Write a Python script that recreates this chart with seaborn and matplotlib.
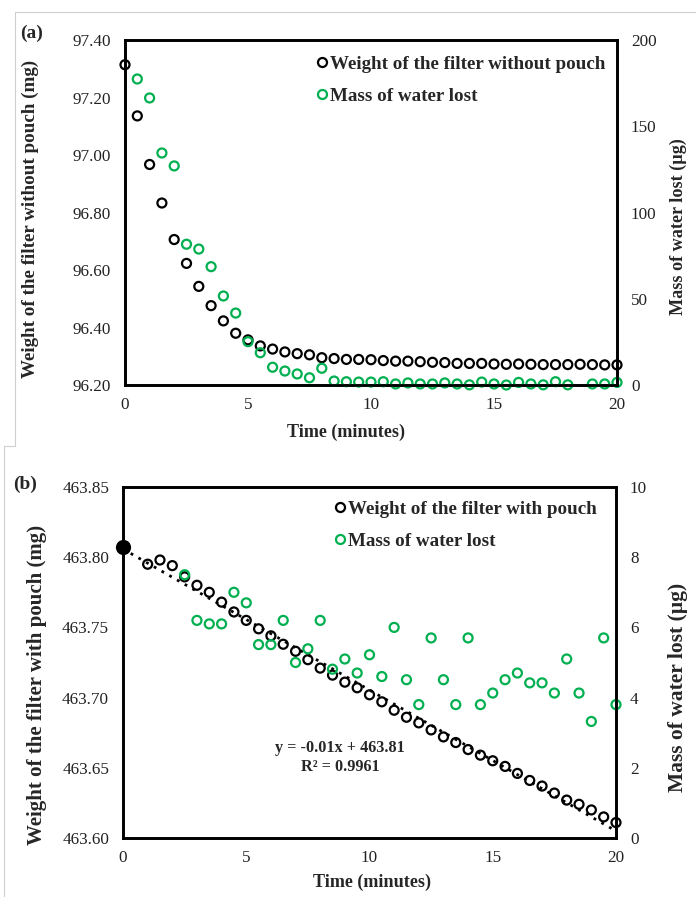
import numpy as np
import pandas as pd
import matplotlib
matplotlib.use("Agg")
import matplotlib.pyplot as plt
import seaborn as sns
from matplotlib.lines import Line2D
from matplotlib.ticker import FormatStrFormatter, MultipleLocator

# ---------------- data ----------------
# Panel (a)
time_a_w = [0, 0.5, 1, 1.5, 2, 2.5, 3, 3.5, 4, 4.5, 5, 5.5, 6, 6.5, 7, 7.5, 8, 8.5, 9, 9.5,
            10, 10.5, 11, 11.5, 12, 12.5, 13, 13.5, 14, 14.5, 15, 15.5, 16, 16.5, 17, 17.5,
            18, 18.5, 19, 19.5, 20]
weight_a = [97.314, 97.136, 96.967, 96.833, 96.706, 96.623, 96.543, 96.476, 96.423, 96.380,
            96.357, 96.336, 96.325, 96.315, 96.309, 96.305, 96.295, 96.292, 96.289, 96.289,
            96.288, 96.285, 96.283, 96.283, 96.281, 96.279, 96.278, 96.275, 96.275, 96.275,
            96.273, 96.272, 96.273, 96.272, 96.271, 96.271, 96.271, 96.272, 96.271, 96.270,
            96.270]
time_a_m = [0.5, 1, 1.5, 2, 2.5, 3, 3.5, 4, 4.5, 5, 5.5, 6, 6.5, 7, 7.5, 8, 8.5, 9, 9.5,
            10, 10.5, 11, 11.5, 12, 12.5, 13, 13.5, 14, 14.5, 15, 15.5, 16, 16.5, 17, 17.5,
            18, 19, 19.5, 20]
mass_a = [177.4, 166.4, 134.5, 127.0, 81.6, 78.8, 68.6, 51.6, 41.7, 25.1, 18.7, 10.3, 8.1,
          6.4, 4.2, 9.7, 2.3, 1.9, 1.7, 1.7, 1.9, 0.6, 1.2, 0.6, 0.6, 1.2, 0.6, 0.1, 1.7,
          0.6, 0.0, 1.5, 0.6, 0.1, 1.9, 0.1, 0.6, 0.6, 1.5]

# Panel (b)
time_b0 = [0]
weight_b0 = [463.807]
time_b_w = [1, 1.5, 2, 2.5, 3, 3.5, 4, 4.5, 5, 5.5, 6, 6.5, 7, 7.5, 8, 8.5, 9, 9.5, 10,
            10.5, 11, 11.5, 12, 12.5, 13, 13.5, 14, 14.5, 15, 15.5, 16, 16.5, 17, 17.5,
            18, 18.5, 19, 19.5, 20]
weight_b = [463.795, 463.798, 463.794, 463.786, 463.780, 463.775, 463.768, 463.761,
            463.755, 463.749, 463.744, 463.738, 463.733, 463.727, 463.721, 463.716,
            463.711, 463.707, 463.702, 463.697, 463.691, 463.686, 463.682, 463.677,
            463.672, 463.668, 463.663, 463.659, 463.655, 463.651, 463.646, 463.641,
            463.637, 463.632, 463.627, 463.624, 463.620, 463.615, 463.611]
time_b_m = [2.5, 3, 3.5, 4, 4.5, 5, 5.5, 6, 6.5, 7, 7.5, 8, 8.5, 9, 9.5, 10, 10.5, 11,
            11.5, 12, 12.5, 13, 13.5, 14, 14.5, 15, 15.5, 16, 16.5, 17, 17.5, 18, 18.5,
            19, 19.5, 20]
mass_b = [7.50, 6.20, 6.10, 6.10, 7.00, 6.70, 5.51, 5.51, 6.20, 5.00, 5.39, 6.20, 4.81,
          5.10, 4.70, 5.22, 4.60, 6.00, 4.51, 3.80, 5.70, 4.51, 3.80, 5.70, 3.80, 4.13,
          4.51, 4.70, 4.42, 4.42, 4.13, 5.10, 4.13, 3.32, 5.70, 3.80]

label_w_a = "Weight of the filter without pouch"
label_w_b = "Weight of the filter with pouch"
label_m = "Mass of water lost"
ylabel_a = "Weight of the filter without pouch (mg)"
ylabel_b = "Weight of the filter with pouch (mg)"
ylabel_r = "Mass of water lost (\u00b5g)"
xlabel = "Time (minutes)"
equation = "y = -0.01x + 463.81\nR\u00b2 = 0.9961"

# ---------------- style ----------------
sns.set_theme(style="white")
plt.rcParams["font.family"] = ["Liberation Serif", "DejaVu Serif"]

GREEN = "#00B050"
W, H = 696, 897
fig = plt.figure(figsize=(W / 100, H / 100), dpi=100)

def fr(left, top, right, bottom):
    return [left / W, 1 - bottom / H, (right - left) / W, (bottom - top) / H]

A_BOX = (125, 40, 617, 385)
B_BOX = (123, 487, 616, 838)
ax_a = fig.add_axes(fr(*A_BOX))
ax_b = fig.add_axes(fr(*B_BOX))

MS = 42
LW = 1.6
TICK_FS = 12.3
LEG_FS = 13.7

def ax_frac(box, px=None, py=None):
    l, t, r, b = box
    fx = None if px is None else (px - l) / (r - l)
    fy = None if py is None else (b - py) / (b - t)
    return fx, fy

def style_axes(ax, ax2):
    for a in (ax, ax2):
        for s in a.spines.values():
            s.set_linewidth(1.9)
            s.set_color("black")
        a.tick_params(length=0, labelsize=TICK_FS, colors="#222222")
    ax.tick_params(axis="x", pad=8.5)
    ax.tick_params(axis="y", pad=10)
    ax2.tick_params(axis="y", pad=10)
    ax.set_xlim(0, 20)
    ax.xaxis.set_major_locator(MultipleLocator(5))

def place_label(axis, box, px, py):
    fx, fy = ax_frac(box, px, py)
    axis.set_label_coords(fx, fy)
    axis.label.set_va("center")

# ---- Panel (a) ----
df_aw = pd.DataFrame({"t": time_a_w, "w": weight_a})
df_am = pd.DataFrame({"t": time_a_m, "m": mass_a})
sns.scatterplot(data=df_aw, x="t", y="w", ax=ax_a, marker="o", s=MS,
                facecolor="none", edgecolor="black", linewidth=LW, clip_on=False)
ax_a2 = ax_a.twinx()
sns.scatterplot(data=df_am, x="t", y="m", ax=ax_a2, marker="o", s=MS,
                facecolor="none", edgecolor=GREEN, linewidth=LW, clip_on=False)
ax_a.set_ylim(96.20, 97.40)
ax_a.yaxis.set_major_locator(MultipleLocator(0.2))
ax_a.yaxis.set_major_formatter(FormatStrFormatter("%.2f"))
ax_a2.set_ylim(0, 200)
ax_a2.yaxis.set_major_locator(MultipleLocator(50))
style_axes(ax_a, ax_a2)
ax_a.set_xlim(0, 20)

ax_a.set_xlabel(xlabel, fontsize=13.1, fontweight="bold")
place_label(ax_a.xaxis, A_BOX, 346, 432)
ax_a.set_ylabel(ylabel_a, fontsize=13.7, fontweight="bold")
place_label(ax_a.yaxis, A_BOX, 30, 219)
ax_a2.set_ylabel(ylabel_r, fontsize=13.1, fontweight="bold", rotation=90)
place_label(ax_a2.yaxis, A_BOX, 678, 227)

# ---- Panel (b) ----
df_bw = pd.DataFrame({"t": time_b0 + time_b_w, "w": weight_b0 + weight_b})
df_bw1 = pd.DataFrame({"t": time_b_w, "w": weight_b})
df_b0 = pd.DataFrame({"t": time_b0, "w": weight_b0})
df_bm = pd.DataFrame({"t": time_b_m, "m": mass_b})
sns.regplot(data=df_bw, x="t", y="w", ax=ax_b, scatter=False, ci=None, truncate=True,
            line_kws=dict(color="black", lw=2.0, ls=(0, (1, 2.2))))
sns.scatterplot(data=df_bw1, x="t", y="w", ax=ax_b, marker="o", s=MS,
                facecolor="none", edgecolor="black", linewidth=LW, clip_on=False)
sns.scatterplot(data=df_b0, x="t", y="w", ax=ax_b, marker="o", s=120,
                color="black", edgecolor="black", linewidth=0, clip_on=False, zorder=5)
ax_b2 = ax_b.twinx()
sns.scatterplot(data=df_bm, x="t", y="m", ax=ax_b2, marker="o", s=MS,
                facecolor="none", edgecolor=GREEN, linewidth=LW, clip_on=False)
ax_b.set_ylim(463.60, 463.85)
ax_b.yaxis.set_major_locator(MultipleLocator(0.05))
ax_b.yaxis.set_major_formatter(FormatStrFormatter("%.2f"))
ax_b2.set_ylim(0, 10)
ax_b2.yaxis.set_major_locator(MultipleLocator(2))
style_axes(ax_b, ax_b2)
ax_b.set_xlim(0, 20)

ax_b.set_xlabel(xlabel, fontsize=13.1, fontweight="bold")
place_label(ax_b.xaxis, B_BOX, 372, 882)
ax_b.set_ylabel(ylabel_b, fontsize=15.0, fontweight="bold")
place_label(ax_b.yaxis, B_BOX, 37, 685)
ax_b2.set_ylabel(ylabel_r, fontsize=15.5, fontweight="bold", rotation=90)
place_label(ax_b2.yaxis, B_BOX, 678, 687)

fx, fy = ax_frac(B_BOX, 340, 757.5)
ax_b.text(fx, fy, equation, transform=ax_b.transAxes, ha="center", va="center",
          fontsize=11.7, fontweight="bold", linespacing=1.2, multialignment="center")

# ---- legends ----
def make_legend(ax2, lab_w, x, y):
    hs = [Line2D([], [], ls="none", marker="o", ms=6.5, mfc="none", mec="black", mew=LW),
          Line2D([], [], ls="none", marker="o", ms=6.5, mfc="none", mec=GREEN, mew=LW)]
    ax2.legend(hs, [lab_w, label_m], loc="upper left", bbox_to_anchor=(x / W, 1 - y / H),
               bbox_transform=fig.transFigure, frameon=False, borderpad=0,
               borderaxespad=0, handlelength=0.6, handletextpad=0.15,
               labelspacing=0.78,
               prop=dict(family="Liberation Serif", weight="bold", size=LEG_FS))

make_legend(ax_a2, label_w_a, 316, 55.5)
make_legend(ax_b2, label_w_b, 334, 500.5)

# ---- panel tags ----
fig.text(20 / W, 1 - 33 / H, "(a)", fontsize=14, fontweight="bold", va="center", ha="left")
fig.text(13 / W, 1 - 484 / H, "(b)", fontsize=14, fontweight="bold", va="center", ha="left")

# ---- light page frame lines ----
gray = "#cfcfcf"
for xs, ys in [((15, 696), (12, 12)), ((15, 15), (12, 446)), ((4, 15), (446, 446)),
               ((4, 4), (446, 897))]:
    fig.add_artist(Line2D([x / W for x in xs], [1 - y / H for y in ys], color=gray,
                          lw=0.8, transform=fig.transFigure))

fig.savefig("out.png", dpi=100)
